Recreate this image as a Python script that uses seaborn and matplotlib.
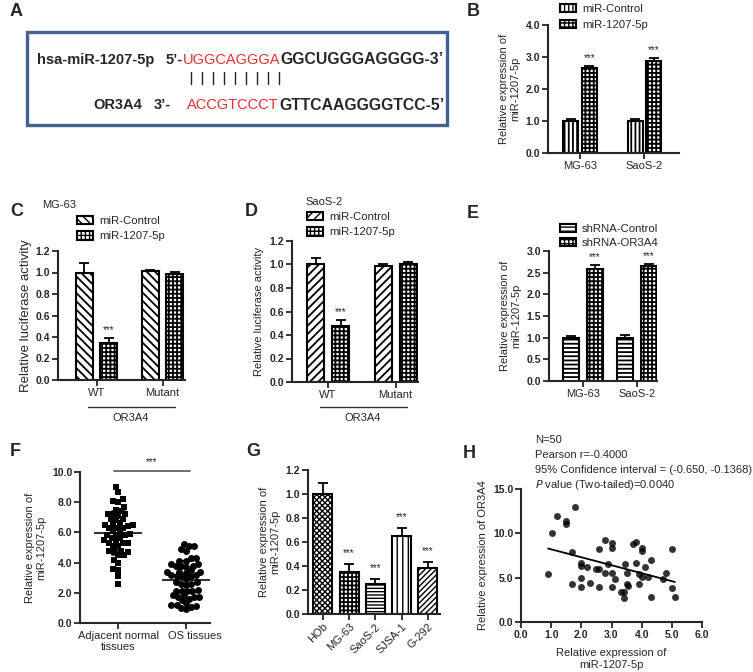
import matplotlib
matplotlib.use('Agg')
import matplotlib.pyplot as plt
from matplotlib.patches import Patch, Rectangle
from matplotlib.lines import Line2D
from matplotlib.path import Path
from matplotlib.transforms import ScaledTranslation
import numpy as np
import pandas as pd
import seaborn as sns

sns.set_style('ticks')
plt.rcParams['font.family'] = ['Liberation Sans', 'DejaVu Sans']
plt.rcParams['hatch.linewidth'] = 1.0

W, H = 753, 672

# ============================================================
# DATA
# ============================================================
# A: binding site
mir_name = 'hsa-miR-1207-5p'
mir_prefix = '5\u2019-'
mir_seed = 'UGGCAGGGA'
mir_rest = 'GGCUGGGAGGGG-3\u2019'
or_name = 'OR3A4'
or_prefix = '3\u2019-'
or_seed = 'ACCGTCCCT'
or_rest = 'GTTCAAGGGGTCC-5\u2019'

# B: miR-1207-5p mimic
b_cells = ['MG-63', 'SaoS-2']
b_groups = ['miR-Control', 'miR-1207-5p']
b_vals = [[1.00, 1.00], [2.65, 2.88]]
b_errs = [[0.07, 0.05], [0.06, 0.08]]

# C / D: luciferase
cd_cats = ['WT', 'Mutant']
cd_groups = ['miR-Control', 'miR-1207-5p']
c_vals = [[1.00, 1.01], [0.34, 0.985]]
c_errs = [[0.09, 0.015], [0.055, 0.02]]
d_vals = [[1.00, 0.99], [0.48, 1.00]]
d_errs = [[0.055, 0.01], [0.05, 0.025]]

# E: shRNA
e_cells = ['MG-63', 'SaoS-2']
e_groups = ['shRNA-Control', 'shRNA-OR3A4']
e_vals = [[1.00, 1.00], [2.58, 2.65]]
e_errs = [[0.05, 0.06], [0.10, 0.06]]

# F: tissues
f_groups = ['Adjacent normal\ntissues', 'OS tissues']
f_adjacent = [9.0, 8.7, 8.2, 8.0, 8.1, 7.7, 7.5, 7.4, 7.2, 7.2, 7.2, 7.1, 6.9, 6.9,
              6.8, 6.6, 6.5, 6.5, 6.5, 6.4, 6.3, 6.3, 6.3, 6.1, 6.0, 5.9, 5.8, 5.8,
              5.8, 5.6, 5.6, 5.5, 5.3, 5.3, 5.3, 5.4, 5.1, 5.1, 4.7, 4.8, 4.8, 4.7,
              4.5, 4.5, 4.2, 4.0, 3.6, 3.5, 3.1, 2.6]
f_os = [4.8, 5.1, 4.9, 5.1, 5.2, 4.1, 4.3, 4.3, 4.1, 3.8, 3.9, 3.8, 3.7, 3.8,
        3.9, 3.4, 3.5, 3.4, 3.4, 3.3, 3.2, 3.1, 3.1, 3.2, 3.1, 2.9, 2.6, 2.7,
        2.6, 2.7, 2.5, 2.2, 2.1, 2.1, 2.1, 2.1, 1.7, 1.8, 1.85, 1.6, 1.7, 1.75,
        1.5, 1.3, 1.2, 1.2, 1.1, 1.0, 0.9, 1.05]

# G: cell lines
g_cells = ['HOb', 'MG-63', 'SaoS-2', 'SJSA-1', 'G-292']
g_vals = [1.00, 0.35, 0.25, 0.65, 0.385]
g_errs = [0.09, 0.07, 0.045, 0.07, 0.05]

# H: correlation
h_mir = [0.9, 1.03, 1.2, 1.5, 1.5, 1.8, 1.7, 1.7, 2.0, 2.0, 2.0, 2.0, 2.2, 2.3,
         2.5, 2.6, 2.6, 2.6, 2.8, 2.8, 2.9, 3.0, 3.0, 3.0, 3.0, 3.1, 3.3, 3.4,
         3.4, 3.45, 3.5, 3.5, 3.55, 3.7, 3.8, 3.8, 3.9, 3.9, 4.0, 4.0, 4.0, 4.1,
         4.2, 4.3, 4.3, 4.7, 4.8, 5.0, 5.0, 5.1]
h_or = [5.4, 10.0, 12.0, 11.4, 11.0, 13.0, 7.9, 4.3, 6.6, 6.3, 5.0, 3.9, 6.2, 4.4,
        6.0, 6.0, 8.2, 4.0, 9.2, 5.5, 6.5, 8.9, 8.3, 5.5, 4.0, 4.9, 3.4, 3.4,
        2.7, 6.5, 5.5, 4.3, 4.1, 8.8, 9.0, 6.7, 5.4, 4.3, 8.4, 8.0, 5.1, 6.2,
        5.1, 7.0, 2.8, 4.8, 5.5, 8.2, 3.8, 2.8]
h_stats = ['N=50', 'Pearson r=-0.4000',
           '95% Confidence interval = (-0.650, -0.1368)',
           '$\\it{P}$ value (Two-tailed)=0.0040']

TICK_FS = 7.5
LAB_FS = 8

# ============================================================
# HELPERS
# ============================================================
fig = plt.figure(figsize=(W / 100, H / 100), dpi=100)


def axes_px(l, t, r, b):
    return fig.add_axes([l / W, 1 - b / H, (r - l) / W, (b - t) / H])


def text_px(x, y, s, **kw):
    return fig.text(x / W, 1 - y / H, s, **kw)


def line_px(x0, x1, y, lw=1.0, color='#333333'):
    fig.add_artist(Line2D([x0 / W, x1 / W], [1 - y / H, 1 - y / H], color=color, lw=lw))


def set_hlw(p, lw):
    if hasattr(p, 'set_hatch_linewidth'):
        p.set_hatch_linewidth(lw)


def legend_px(labels, hatches, x, y, hlw=1.3, spacing=0.45):
    handles = []
    for h in hatches:
        p = Patch(facecolor='white', edgecolor='black', hatch=h, lw=1.5)
        set_hlw(p, hlw)
        handles.append(p)
    return fig.legend(handles, labels, loc='upper left', bbox_to_anchor=(x / W, 1 - y / H),
                      frameon=False, fontsize=8.2, handlelength=1.4, handleheight=0.75,
                      handletextpad=0.55, labelspacing=spacing, borderpad=0, borderaxespad=0)


def style(ax, yticks, fmt='{:.1f}'):
    sns.despine(ax=ax)
    ax.set_ylim(yticks[0], yticks[-1])
    ax.set_yticks(yticks)
    ax.set_yticklabels([fmt.format(t) for t in yticks], fontweight='bold')
    ax.tick_params(direction='out', length=4, width=1.3, labelsize=TICK_FS, pad=1.5)
    ax.tick_params(axis='x', labelsize=LAB_FS)
    for s in ['left', 'bottom']:
        ax.spines[s].set_linewidth(1.5)
    ax.set_xlabel('')
    ax.set_ylabel('')
    ax.patch.set_alpha(0)


def grouped_bars(ax, cats, groups, vals, errs, hatches, width, gap, hlw=1.3, stars=None):
    df = pd.DataFrame({'cat': np.tile(cats, len(groups)),
                       'grp': np.repeat(groups, len(cats)),
                       'val': np.ravel(vals)})
    sns.barplot(data=df, x='cat', y='val', hue='grp', order=cats, hue_order=groups,
                width=width, gap=gap, palette=['white'] * len(groups), edgecolor='black',
                linewidth=1.5, errorbar=None, legend=False, ax=ax)
    for k, (cont, h, e) in enumerate(zip(ax.containers, hatches, errs)):
        xs, tops = [], []
        for bar in cont:
            bar.set_hatch(h)
            set_hlw(bar, hlw)
            xs.append(bar.get_x() + bar.get_width() / 2)
            tops.append(bar.get_height())
        ax.errorbar(xs, tops, yerr=[np.zeros(len(e)), e], fmt='none', ecolor='black',
                    elinewidth=1.3, capsize=3.5, capthick=1.3, zorder=3)
        if stars is not None and stars[k]:
            for i, (x, t, ee) in enumerate(zip(xs, tops, e)):
                if stars[k] is True or i in stars[k]:
                    ax.annotate('***', (x, t + ee), xytext=(0, 2), textcoords='offset points',
                                ha='center', va='bottom', fontsize=7)
    return ax


# ============================================================
# A
# ============================================================
text_px(10, 12, 'A', fontsize=13, fontweight='bold', va='center')
fig.add_artist(Rectangle((27 / W, 1 - 125 / H), 420 / W, 93 / H, transform=fig.transFigure,
                         fill=False, edgecolor='#44618f', lw=2.4))
red = '#e2312c'
text_px(37, 60, mir_name, fontsize=10.5, fontweight='bold', va='center')
text_px(166, 60, mir_prefix, fontsize=10.5, fontweight='bold', va='center')
text_px(183, 60, mir_seed, fontsize=10.5, color=red, va='center')
text_px(280, 60, mir_rest, fontsize=11.3, fontweight='bold', va='center')
text_px(142, 105, or_name, fontsize=10.5, fontweight='bold', va='center', ha='right')
text_px(154, 105, or_prefix, fontsize=10.5, fontweight='bold', va='center')
text_px(187, 105, or_seed, fontsize=10.5, color=red, va='center')
text_px(279, 105, or_rest, fontsize=11.3, fontweight='bold', va='center')
for i in range(len(mir_seed)):
    x = 191 + i * 11
    fig.add_artist(Line2D([x / W, x / W], [1 - 72 / H, 1 - 84 / H], color='#222222', lw=1.0))

# ============================================================
# B
# ============================================================
text_px(467, 12, 'B', fontsize=13, fontweight='bold', va='center')
axB = axes_px(548, 25, 679, 153)
grouped_bars(axB, b_cells, b_groups, b_vals, b_errs, ['||||', '++++'], 0.57, 0.2,
             stars=[False, True])
style(axB, [0, 1, 2, 3, 4])
axB.set_xlim(-0.496, 1.535)
axB.set_ylabel('Relative expression of\nmiR-1207-5p', fontsize=LAB_FS, labelpad=4)
legend_px(b_groups, ['||||', '++++'], 560, 4, spacing=0.5)

# ============================================================
# C
# ============================================================
text_px(10, 212, 'C', fontsize=13, fontweight='bold', va='center')
text_px(42, 205, 'MG-63', fontsize=8, va='center')
axC = axes_px(58, 251, 185, 380)
grouped_bars(axC, cd_cats, cd_groups, c_vals, c_errs, ['\\\\\\\\', '++++'], 0.73, 0.29,
             stars=[False, [0]])
style(axC, [0, 0.2, 0.4, 0.6, 0.8, 1.0, 1.2])
axC.set_xlim(-0.583, 1.34)
axC.set_ylabel('Relative luciferase activity', fontsize=9.5, labelpad=3)
legend_px(cd_groups, ['\\\\\\\\', '++++'], 77, 216)
line_px(88, 175, 407)
text_px(131, 418, 'OR3A4', fontsize=8, ha='center', va='center')

# ============================================================
# D
# ============================================================
text_px(245, 212, 'D', fontsize=13, fontweight='bold', va='center')
text_px(305, 202, 'SaoS-2', fontsize=8, va='center')
axD = axes_px(292, 241, 418, 382)
grouped_bars(axD, cd_cats, cd_groups, d_vals, d_errs, ['////', '++++'], 0.74, 0.32,
             stars=[False, [0]])
style(axD, [0, 0.2, 0.4, 0.6, 0.8, 1.0, 1.2])
axD.set_xlim(-0.533, 1.33)
axD.set_ylabel('Relative luciferase activity', fontsize=LAB_FS, labelpad=4)
legend_px(cd_groups, ['////', '++++'], 307, 212)
line_px(320, 407, 407)
text_px(363, 418, 'OR3A4', fontsize=8, ha='center', va='center')

# ============================================================
# E
# ============================================================
text_px(467, 213, 'E', fontsize=13, fontweight='bold', va='center')
axE = axes_px(549, 251, 657, 381)
grouped_bars(axE, e_cells, e_groups, e_vals, e_errs, ['----', '++++'], 0.89, 0.33,
             stars=[False, True])
style(axE, [0, 0.5, 1.0, 1.5, 2.0, 2.5, 3.0])
axE.set_xlim(-0.63, 1.37)
axE.set_ylabel('Relative expression of\nmiR-1207-5p', fontsize=LAB_FS, labelpad=4)
legend_px(e_groups, ['----', '++++'], 560, 224, spacing=0.35)

# ============================================================
# F
# ============================================================
text_px(10, 452, 'F', fontsize=13, fontweight='bold', va='center')
axF = axes_px(80, 472, 210, 623)
df_f = pd.DataFrame({'grp': [f_groups[0]] * len(f_adjacent) + [f_groups[1]] * len(f_os),
                     'val': f_adjacent + f_os})
for grp, mk in zip(f_groups, ['s', 'o']):
    sns.swarmplot(data=df_f[df_f['grp'] == grp], x='grp', y='val', order=f_groups,
                  marker=mk, size=3.7, color='black', ax=axF)
    # swarm laid out for small markers, drawn a bit larger (GraphPad-like overlap)
    coll = axF.collections[-1]
    p = coll.get_paths()[0]
    coll.set_paths([Path(p.vertices * 1.35, p.codes)])
sns.pointplot(data=df_f, x='grp', y='val', order=f_groups, errorbar='sd', color='#333333',
              marker='_', markersize=34, markeredgewidth=1.5, linestyle='none',
              capsize=0.2, err_kws={'linewidth': 1.3}, ax=axF)
style(axF, [0, 2, 4, 6, 8, 10])
axF.set_xlim(-0.567, 1.35)
for lbl in axF.get_xticklabels():
    lbl.set_multialignment('center')
off = axF.get_xticklabels()[1]
off.set_transform(off.get_transform() + ScaledTranslation(6 / 72, 0, fig.dpi_scale_trans))
axF.set_ylabel('Relative expression of\nmiR-1207-5p', fontsize=LAB_FS, labelpad=4)
axF.plot([-0.07, 1.05], [10.05, 10.05], color='#555555', lw=1.2, clip_on=False)
axF.text(0.49, 10.3, '***', ha='center', va='bottom', fontsize=7)

# ============================================================
# G
# ============================================================
text_px(246, 452, 'G', fontsize=13, fontweight='bold', va='center')
axG = axes_px(308, 470, 440, 614)
sns.barplot(x=g_cells, y=g_vals, order=g_cells, width=0.73, color='white',
            edgecolor='black', linewidth=1.5, errorbar=None, ax=axG)
g_hatches = ['xxxxxx', '++++', '-----', '|||', '//////']
g_hlw = [1.0, 1.3, 1.0, 1.0, 1.0]
gx, gt = [], []
for bar, h, lw in zip(axG.patches, g_hatches, g_hlw):
    bar.set_hatch(h)
    set_hlw(bar, lw)
    gx.append(bar.get_x() + bar.get_width() / 2)
    gt.append(bar.get_height())
axG.errorbar(gx, gt, yerr=[np.zeros(len(g_errs)), g_errs], fmt='none', ecolor='black',
             elinewidth=1.3, capsize=3.5, capthick=1.3, zorder=3)
for x, t, e in list(zip(gx, gt, g_errs))[1:]:
    axG.annotate('***', (x, t + e), xytext=(0, 4), textcoords='offset points',
                 ha='center', va='bottom', fontsize=7)
style(axG, [0, 0.2, 0.4, 0.6, 0.8, 1.0, 1.2])
axG.set_xlim(-0.57, 4.47)
axG.set_xticks(range(len(g_cells)))
axG.set_xticklabels(g_cells, rotation=45, ha='right', rotation_mode='anchor', fontsize=LAB_FS)
axG.set_ylabel('Relative expression of\nmiR-1207-5p', fontsize=LAB_FS, labelpad=4)

# ============================================================
# H
# ============================================================
text_px(463, 454, 'H', fontsize=13, fontweight='bold', va='center')
axH = axes_px(521, 489, 702, 622)
sns.regplot(x=h_mir, y=h_or, ci=None, color='black',
            scatter_kws={'s': 25, 'linewidths': 0}, line_kws={'lw': 1.3}, ax=axH)
style(axH, [0, 5, 10, 15])
axH.set_xlim(0, 6)
axH.set_xticks(range(7))
axH.set_xticklabels(['{:.1f}'.format(v) for v in range(7)], fontweight='bold', fontsize=TICK_FS)
axH.set_ylabel('Relative expression of OR3A4', fontsize=LAB_FS, labelpad=4)
axH.set_xlabel('Relative expression of\nmiR-1207-5p', fontsize=LAB_FS, labelpad=6)
for i, s in enumerate(h_stats):
    text_px(535, 440 + i * 15, s, fontsize=8, va='center')

fig.savefig('out.png', dpi=100)
